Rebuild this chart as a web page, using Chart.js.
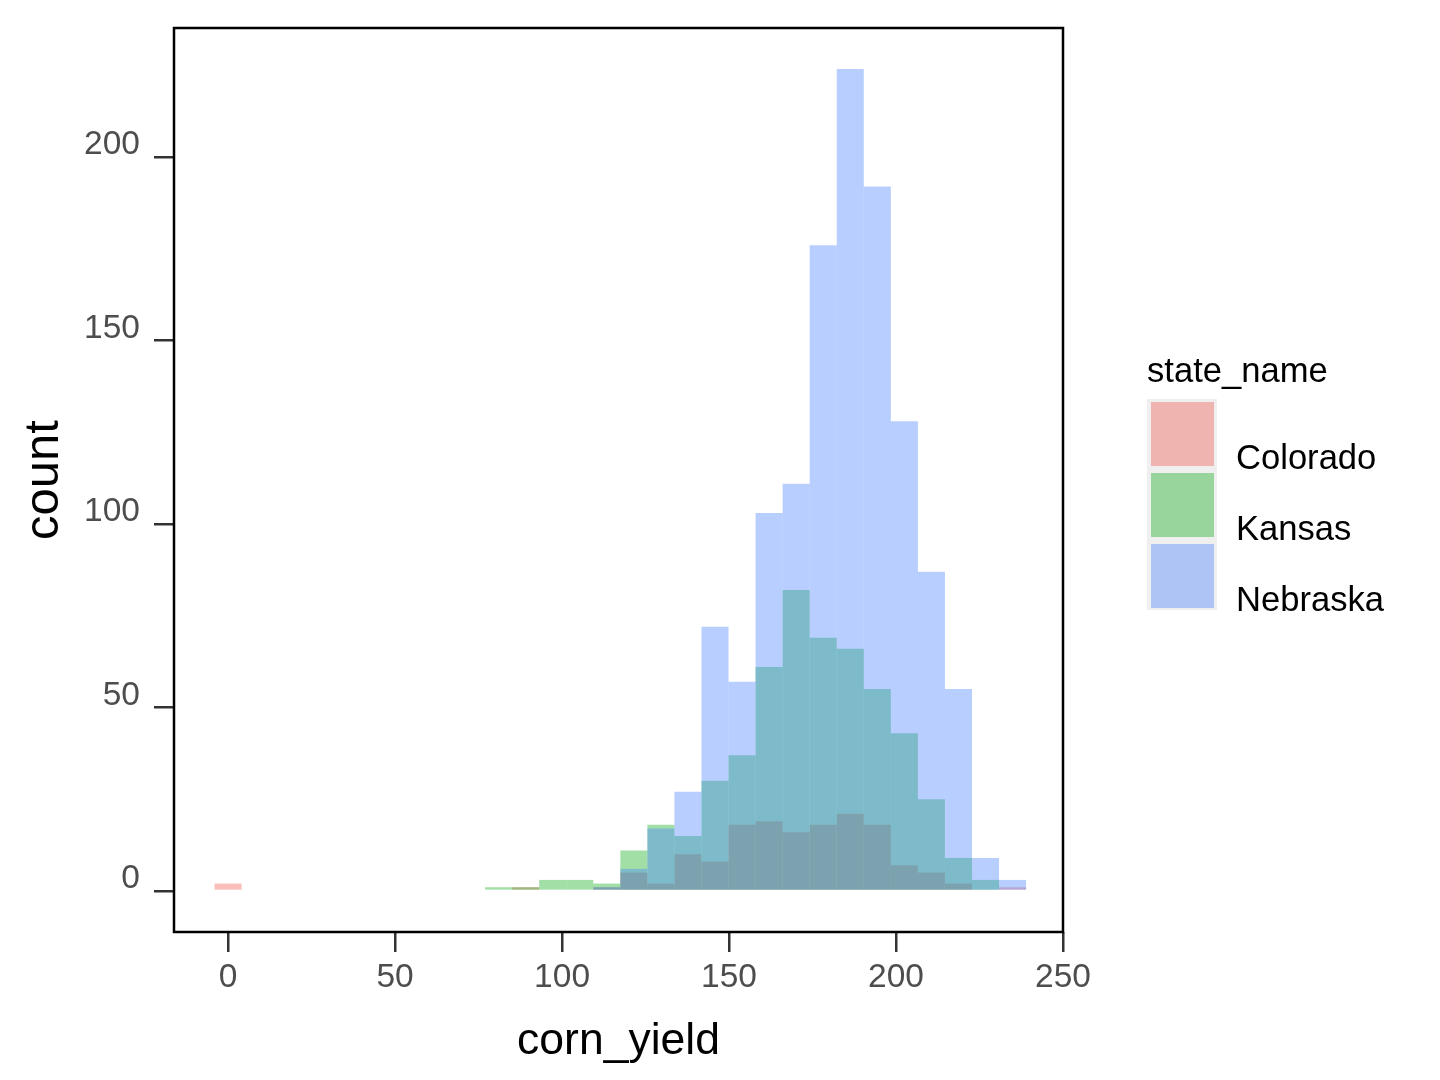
<!DOCTYPE html>
<html>
<head>
<meta charset="utf-8">
<script src="https://cdn.jsdelivr.net/npm/chart.js@4.4.1/dist/chart.umd.min.js"></script>
<style>
  html, body { margin:0; padding:0; background:#ffffff; }
  #wrap { position:relative; width:1440px; height:1080px; }
  #wrap canvas { position:absolute; left:0; top:0; }
  .lg { position:absolute; font-family:'Liberation Sans', Arial, Helvetica, sans-serif; color:#000; line-height:1; white-space:nowrap; }
  .key { position:absolute; }
</style>
</head>
<body>
<div id="wrap">
  <canvas id="c" width="1440" height="1080"></canvas>
  <div class="lg" id="lgTitle" style="left:1147px; top:353px; font-size:34.6px;"></div>
  <div class="key" style="left:1147px; top:399px; width:70px; height:211px; background:#efefef;"></div>
  <div id="legendItems"></div>
</div>
<script>
// ---- data ----
const binCenters = [0, 8.1, 16.2, 24.3, 32.4, 40.5, 48.6, 56.7, 64.8, 72.9,
                    81.0, 89.1, 97.2, 105.3, 113.4, 121.5, 129.6, 137.7, 145.8, 153.9,
                    162.0, 170.1, 178.2, 186.3, 194.4, 202.5, 210.6, 218.7, 226.8, 234.9];
const colorado = [2, 0, 0, 0, 0, 0, 0, 0, 0, 0,
                  0, 1, 0, 0, 1, 5, 2, 10, 8, 18,
                  19, 16, 18, 21, 18, 7, 5, 2, 0, 1];
const kansas   = [0, 0, 0, 0, 0, 0, 0, 0, 0, 0,
                  1, 1, 3, 3, 2, 11, 18, 15, 30, 37,
                  61, 82, 69, 66, 55, 43, 25, 9, 3, 0];
const nebraska = [0, 0, 0, 0, 0, 0, 0, 0, 0, 0,
                  0, 0, 0, 0, 1, 6, 17, 27, 72, 57,
                  103, 111, 176, 224, 192, 128, 87, 55, 9, 3];
const stateNames = ['Colorado', 'Kansas', 'Nebraska'];
const xTicks = [0, 50, 100, 150, 200, 250];
const yTicks = [0, 50, 100, 150, 200];
const legendTitle = 'state_name';
const xTitle = 'corn_yield';
const yTitle = 'count';

// ---- styles ----
const fillColors = ['rgba(240,90,82,0.4)', 'rgba(20,175,35,0.4)', 'rgba(76,133,255,0.4)'];
const FONT = "'Liberation Sans', Arial, Helvetica, sans-serif";

const series = [colorado, kansas, nebraska];
const datasets = series.map((vals, i) => ({
  label: stateNames[i],
  data: binCenters.map((c, j) => ({ x: c, y: vals[j] })),
  backgroundColor: fillColors[i],
  borderWidth: 0,
  grouped: false,
  barPercentage: 1.0,
  categoryPercentage: 1.0,
  inflateAmount: 0,
  order: 3 - i   // Colorado drawn first, Nebraska on top
}));

const framePlugin = {
  id: 'frame',
  afterDraw(chart) {
    const { ctx, chartArea: a } = chart;
    ctx.save();
    ctx.strokeStyle = '#000';
    ctx.lineWidth = 2.5;
    ctx.strokeRect(a.left, a.top, a.right - a.left, a.bottom - a.top);
    ctx.restore();
  }
};

new Chart(document.getElementById('c'), {
  type: 'bar',
  data: { datasets },
  options: {
    responsive: false,
    animation: false,
    devicePixelRatio: 1,
    layout: { padding: { left: 0, right: 377, top: 28, bottom: 0 } },
    plugins: { legend: { display: false }, tooltip: { enabled: false } },
    scales: {
      x: {
        type: 'linear',
        min: -16.2,
        max: 250,
        offset: false,
        afterBuildTicks: s => { s.ticks = xTicks.map(v => ({ value: v })); },
        afterFit: s => { s.height = 148; s.paddingLeft = 0; s.paddingRight = 0; },
        grid: { display: true, offset: false, drawOnChartArea: false, drawTicks: true,
                tickLength: 20, tickColor: '#333333', tickWidth: 2.5, color: '#333333', lineWidth: 2.5 },
        border: { display: false },
        ticks: { color: '#4d4d4d', font: { family: FONT, size: 33.5 }, padding: 6, maxRotation: 0, autoSkip: false },
        title: { display: true, text: xTitle, color: '#000', font: { family: FONT, size: 44.5, lineHeight: 1.2 },
                 padding: { top: 0, bottom: 12 } }
      },
      y: {
        type: 'linear',
        min: -11.2,
        max: 235.2,
        afterBuildTicks: s => { s.ticks = yTicks.map(v => ({ value: v })); },
        afterFit: s => { s.width = 174; s.paddingTop = 0; s.paddingBottom = 0; },
        grid: { display: true, drawOnChartArea: false, drawTicks: true,
                tickLength: 20, tickColor: '#333333', tickWidth: 2.5, color: '#333333', lineWidth: 2.5 },
        border: { display: false },
        ticks: { color: '#4d4d4d', font: { family: FONT, size: 33.5 }, padding: 14, labelOffset: -12, autoSkip: false },
        title: { display: true, text: yTitle, color: '#000', font: { family: FONT, size: 49, lineHeight: 1.2 },
                 padding: { top: 15.5, bottom: 0 } }
      }
    }
  },
  plugins: [framePlugin]
});

// ---- HTML legend ----
document.getElementById('lgTitle').textContent = legendTitle;
const li = document.getElementById('legendItems');
const keyTops = [402, 473, 544];
stateNames.forEach((name, i) => {
  const k = document.createElement('div');
  k.className = 'key';
  k.style.cssText = `left:1151px; top:${keyTops[i]}px; width:63px; height:64px; background:${fillColors[i]};`;
  li.appendChild(k);
  const t = document.createElement('div');
  t.className = 'lg';
  t.textContent = name;
  // baseline ~3px below key bottom
  t.style.cssText = `left:1236px; top:${keyTops[i] + 67 - 29}px; font-size:34.6px;`;
  li.appendChild(t);
});
</script>
</body>
</html>
